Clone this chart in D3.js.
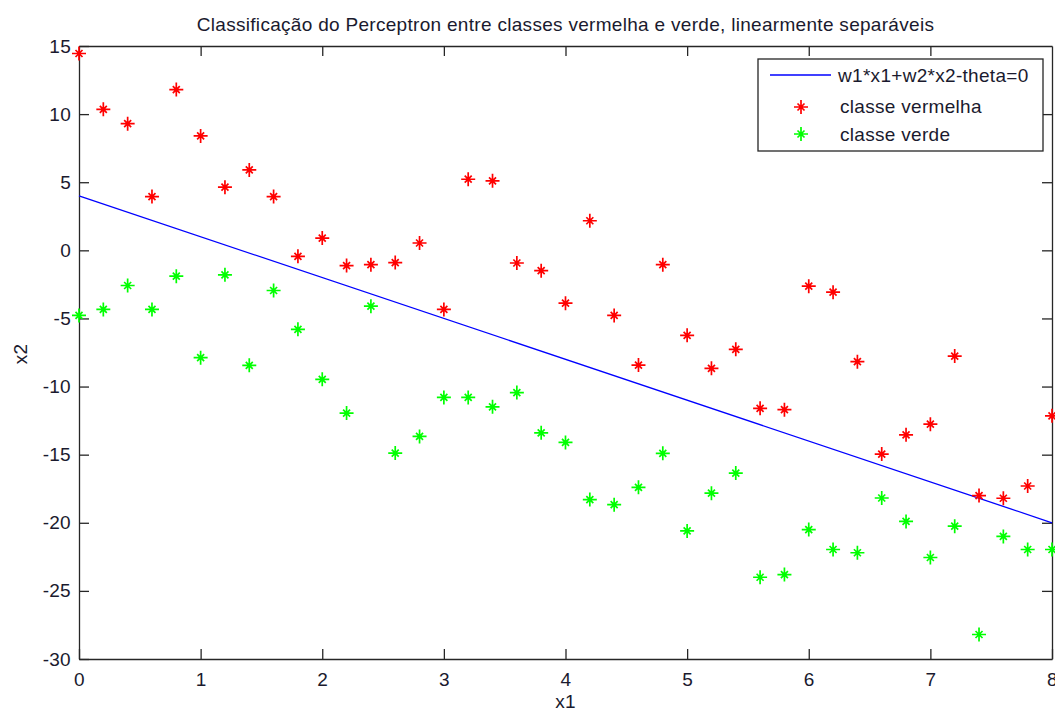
<!DOCTYPE html>
<html>
<head>
<meta charset="utf-8">
<script src="https://cdn.jsdelivr.net/npm/d3@7"></script>
<style>
  html, body { margin: 0; padding: 0; background: #fff; }
  svg { display: block; font-family: "Liberation Sans", Arial, sans-serif; }
</style>
</head>
<body>
<svg id="chart" width="1055" height="711"></svg>
<script>
// Sample positions along x1 (shared by both classes)
const x1Values = [0, 0.2, 0.4, 0.6, 0.8, 1.0, 1.2, 1.4, 1.6, 1.8, 2.0, 2.2, 2.4, 2.6, 2.8,
  3.0, 3.2, 3.4, 3.6, 3.8, 4.0, 4.2, 4.4, 4.6, 4.8, 5.0, 5.2, 5.4, 5.6, 5.8, 6.0,
  6.2, 6.4, 6.6, 6.8, 7.0, 7.2, 7.4, 7.6, 7.8, 8.0];

// x2 of the red class
const redX2 = [14.45, 10.35, 9.3, 3.95, 11.8, 8.4, 4.64, 5.9, 3.95, -0.44, 0.9, -1.12, -1.05, -0.9, 0.54,
  -4.34, 5.22, 5.1, -0.93, -1.49, -3.88, 2.17, -4.78, -8.42, -1.05, -6.24, -8.66, -7.27, -11.6, -11.7, -2.63,
  -3.07, -8.17, -14.96, -13.54, -12.76, -7.76, -18.0, -18.2, -17.3, -12.15];

// x2 of the green class
const greenX2 = [-4.78, -4.34, -2.58, -4.34, -1.9, -7.88, -1.8, -8.44, -2.95, -5.8, -9.47, -11.95, -4.1, -14.88, -13.66,
  -10.8, -10.8, -11.49, -10.44, -13.4, -14.1, -18.3, -18.67, -17.4, -14.9, -20.6, -17.83, -16.35, -24.0, -23.8, -20.5,
  -21.96, -22.2, -18.18, -19.9, -22.55, -20.25, -28.2, -21.0, -21.96, -21.96];

// Decision boundary w1*x1 + w2*x2 - theta = 0
const boundaryX1 = [0, 8];
const boundaryX2 = [4, -20];

const xTicks = [0, 1, 2, 3, 4, 5, 6, 7, 8];
const yTicks = [15, 10, 5, 0, -5, -10, -15, -20, -25, -30];

const titleText = "Classificação do Perceptron entre classes vermelha e verde, linearmente separáveis";
const legendLabels = ["w1*x1+w2*x2-theta=0", "classe vermelha", "classe verde"];

const svg = d3.select("#chart");
const plotLeft = 79, plotRight = 1052, plotTop = 46, plotBottom = 659;

const x = d3.scaleLinear().domain([0, 8]).range([plotLeft, plotRight]);
const y = d3.scaleLinear().domain([-30, 15]).range([plotBottom, plotTop]);

const axisColor = "#262626";
const textColor = "#1a1a2e";
const fontSize = 19;
const spacing = "0.3px";
const plainNumber = d => String(d);   // ASCII hyphen for negatives

// Axes: ticks point inward on all four sides
const gBottom = svg.append("g").attr("transform", `translate(0,${plotBottom})`)
  .call(d3.axisBottom(x).tickValues(xTicks).tickFormat(plainNumber)
    .tickSizeInner(-10).tickSizeOuter(0).tickPadding(14));
const gTop = svg.append("g").attr("transform", `translate(0,${plotTop})`)
  .call(d3.axisTop(x).tickValues(xTicks.slice(1, -1)).tickSizeInner(-10).tickSizeOuter(0).tickFormat(""));
const gLeft = svg.append("g").attr("transform", `translate(${plotLeft},0)`)
  .call(d3.axisLeft(y).tickValues(yTicks).tickFormat(plainNumber)
    .tickSizeInner(-10).tickSizeOuter(0).tickPadding(8));
const gRight = svg.append("g").attr("transform", `translate(${plotRight},0)`)
  .call(d3.axisRight(y).tickValues(yTicks.slice(1, -1)).tickSizeInner(-10).tickSizeOuter(0).tickFormat(""));

[gBottom, gTop, gLeft, gRight].forEach(g => {
  g.select(".domain").attr("stroke", axisColor).attr("stroke-width", 1.3);
  g.selectAll(".tick line").attr("stroke", axisColor).attr("stroke-width", 1.3);
  g.selectAll(".tick text").attr("fill", textColor).style("font-size", fontSize + "px")
    .style("letter-spacing", spacing)
    .style("font-family", '"Liberation Sans", Arial, sans-serif');
});

// Boundary line
svg.append("path")
  .datum(boundaryX1.map((v, i) => [v, boundaryX2[i]]))
  .attr("fill", "none")
  .attr("stroke", "#0000ff")
  .attr("stroke-width", 1.3)
  .attr("d", d3.line().x(d => x(d[0])).y(d => y(d[1])));

// Star marker (plus with a shorter diagonal cross)
const starPath = "M-7,0H7M0,-7V7M-3.5,-3.5L3.5,3.5M-3.5,3.5L3.5,-3.5";

function drawStars(values, color) {
  svg.append("g").selectAll("path")
    .data(values.map((v, i) => [x1Values[i], v]))
    .join("path")
    .attr("d", starPath)
    .attr("transform", d => `translate(${x(d[0])},${y(d[1])})`)
    .attr("fill", "none")
    .attr("stroke", color)
    .attr("stroke-width", 1.7);
}
drawStars(redX2, "#ff0000");
drawStars(greenX2, "#00ff00");

function label(sel) {
  return sel.attr("fill", textColor).style("font-size", fontSize + "px").style("letter-spacing", spacing);
}

// Title and axis labels
label(svg.append("text").attr("x", (plotLeft + plotRight) / 2).attr("y", 31)
  .attr("text-anchor", "middle")).text(titleText);
label(svg.append("text").attr("x", (plotLeft + plotRight) / 2).attr("y", 708)
  .attr("text-anchor", "middle")).text("x1");
label(svg.append("text").attr("transform", "translate(27,354) rotate(-90)")
  .attr("text-anchor", "middle")).text("x2");

// Legend
const lg = svg.append("g");
lg.append("rect").attr("x", 758).attr("y", 59).attr("width", 285).attr("height", 92)
  .attr("fill", "#fff").attr("stroke", axisColor).attr("stroke-width", 1.3);
lg.append("line").attr("x1", 770).attr("x2", 831).attr("y1", 75).attr("y2", 75)
  .attr("stroke", "#0000ff").attr("stroke-width", 1.3);
lg.append("path").attr("d", starPath).attr("transform", "translate(801,107)")
  .attr("fill", "none").attr("stroke", "#ff0000").attr("stroke-width", 1.7);
lg.append("path").attr("d", starPath).attr("transform", "translate(801,134)")
  .attr("fill", "none").attr("stroke", "#00ff00").attr("stroke-width", 1.7);
const legendY = [82, 113, 141];
const legendX = [838, 840, 840];
legendLabels.forEach((t, i) => {
  label(lg.append("text").attr("x", legendX[i]).attr("y", legendY[i])).text(t);
});
</script>
</body>
</html>
